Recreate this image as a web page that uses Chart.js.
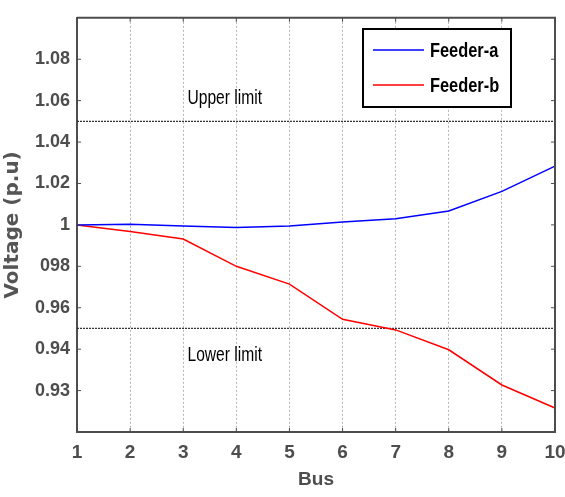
<!DOCTYPE html>
<html>
<head>
<meta charset="utf-8">
<script src="https://cdn.jsdelivr.net/npm/chart.js@4/dist/chart.umd.min.js"></script>
<style>
  html, body { margin: 0; padding: 0; background: #fff; }
  #wrap { width: 565px; height: 497px; }
</style>
</head>
<body>
<div id="wrap"><canvas id="myChart"></canvas></div>
<script>
// data (y in the figure's own axis units)
var buses = ['1', '2', '3', '4', '5', '6', '7', '8', '9', '10'];
var feederA = [1.000, 1.0003, 0.9995, 0.9987, 0.9995, 1.0014, 1.0030, 1.0067, 1.0162, 1.0284];
var feederB = [1.000, 0.9968, 0.9932, 0.9800, 0.9714, 0.9544, 0.9493, 0.9397, 0.9227, 0.9116];
var upperLimit = [1.05, 1.05, 1.05, 1.05, 1.05, 1.05, 1.05, 1.05, 1.05, 1.05];
var lowerLimit = [0.95, 0.95, 0.95, 0.95, 0.95, 0.95, 0.95, 0.95, 0.95, 0.95];
var yTickPos = [1.08, 1.06, 1.04, 1.02, 1.00, 0.98, 0.96, 0.94, 0.92];
var yTickText = ['1.08', '1.06', '1.04', '1.02', '1', '098', '0.96', '0.94', '0.93'];

var sans = "'Liberation Sans', Arial, sans-serif";
var axisGrey = '#4d4d4d';

// squeezed text, the figure uses a narrow face
function narrowText(c, txt, x, y, squeeze) {
    c.save();
    c.translate(x, y);
    c.scale(squeeze, 1);
    c.fillText(txt, 0, 0);
    c.restore();
}

// box, inward ticks, limit captions and the legend
var decorations = {
    id: 'decorations',
    afterDraw: function (chart) {
        var c = chart.ctx, a = chart.chartArea;
        var xs = chart.scales.x, ys = chart.scales.y;
        c.save();
        c.strokeStyle = axisGrey;
        c.lineWidth = 2;
        c.beginPath();
        c.moveTo(a.left, a.top); c.lineTo(a.right, a.top); c.lineTo(a.right, a.bottom);
        c.stroke();
        c.lineWidth = 1;
        c.beginPath();
        ys.ticks.forEach(function (t) {
            var y = ys.getPixelForValue(t.value);
            c.moveTo(a.left, y); c.lineTo(a.left + 4, y);
            c.moveTo(a.right, y); c.lineTo(a.right - 4, y);
        });
        buses.forEach(function (b, i) {
            var x = xs.getPixelForValue(i);
            c.moveTo(x, a.bottom); c.lineTo(x, a.bottom - 4);
            c.moveTo(x, a.top); c.lineTo(x, a.top + 4);
        });
        c.stroke();

        // limit captions
        c.fillStyle = '#000';
        c.font = '20px ' + sans;
        c.textAlign = 'left';
        c.textBaseline = 'middle';
        narrowText(c, 'Upper limit', xs.getPixelForValue(2.08), ys.getPixelForValue(1.061), 0.78);
        narrowText(c, 'Lower limit', xs.getPixelForValue(2.08), ys.getPixelForValue(0.937), 0.78);

        // legend box
        var lx = 363, ly = 29, lw = 148, lh = 78;
        c.fillStyle = '#fff';
        c.fillRect(lx, ly, lw, lh);
        c.strokeStyle = '#000';
        c.lineWidth = 2;
        c.strokeRect(lx, ly, lw, lh);
        c.font = 'bold 21px ' + sans;
        [0, 1].forEach(function (k) {
            var ds = chart.data.datasets[k];
            var yy = ly + 21 + k * 35;
            c.strokeStyle = ds.borderColor;
            c.lineWidth = 1.5;
            c.beginPath();
            c.moveTo(lx + 10, yy); c.lineTo(lx + 61, yy);
            c.stroke();
            c.fillStyle = '#000';
            narrowText(c, ds.label, lx + 67, yy + 1, 0.78);
        });
        c.restore();
    }
};

var ctx = document.getElementById('myChart');
new Chart(ctx, {
    type: 'line',
    data: {
        labels: buses,
        datasets: [
            { label: 'Feeder-a', data: feederA, borderColor: '#0000ff', borderWidth: 1.5, pointRadius: 0, tension: 0 },
            { label: 'Feeder-b', data: feederB, borderColor: '#ff0000', borderWidth: 1.5, pointRadius: 0, tension: 0 },
            { label: 'Upper', data: upperLimit, borderColor: '#333', borderWidth: 1.2, borderDash: [2, 1], pointRadius: 0 },
            { label: 'Lower', data: lowerLimit, borderColor: '#333', borderWidth: 1.2, borderDash: [2, 1], pointRadius: 0 }
        ]
    },
    options: {
        responsive: true,
        maintainAspectRatio: false,
        animation: false,
        layout: { padding: { top: 8, right: 0, left: 0, bottom: 0 } },
        plugins: { legend: { display: false }, tooltip: { enabled: false } },
        scales: {
            x: {
                type: 'category',
                offset: false,
                grid: { color: '#b5b5b5', borderDash: [2, 2], drawTicks: false, offset: false },
                border: { color: axisGrey, width: 2, dash: [2, 2] },
                ticks: { color: axisGrey, padding: 9, font: { family: sans, size: 19, weight: 'bold' } },
                title: { display: true, text: 'Bus', color: axisGrey, padding: { top: 0, bottom: 8 },
                         font: { family: sans, size: 19, weight: 'bold', lineHeight: 1 } },
                afterFit: function (s) {
                    s.height = 65;
                    s.paddingLeft = 0;
                    s.paddingRight = 10;
                }
            },
            y: {
                min: 0.90,
                max: 1.10,
                grid: { display: false, drawTicks: false },
                border: { color: axisGrey, width: 2 },
                afterBuildTicks: function (s) { s.ticks = yTickPos.map(function (v) { return { value: v }; }); },
                ticks: {
                    color: axisGrey, padding: 7,
                    font: { family: sans, size: 18, weight: 'bold' },
                    callback: function (v) {
                        var i = yTickPos.findIndex(function (p) { return Math.abs(p - v) < 1e-6; });
                        return i < 0 ? '' : yTickText[i];
                    }
                },
                title: { display: true, text: 'Voltage (p.u)', color: '#555', padding: { top: 1, bottom: 0 },
                         font: { family: "'DejaVu Sans', sans-serif", size: 20, weight: 'bold' } },
                afterFit: function (s) { s.width = 77; }
            }
        }
    },
    plugins: [decorations]
});
</script>
</body>
</html>
